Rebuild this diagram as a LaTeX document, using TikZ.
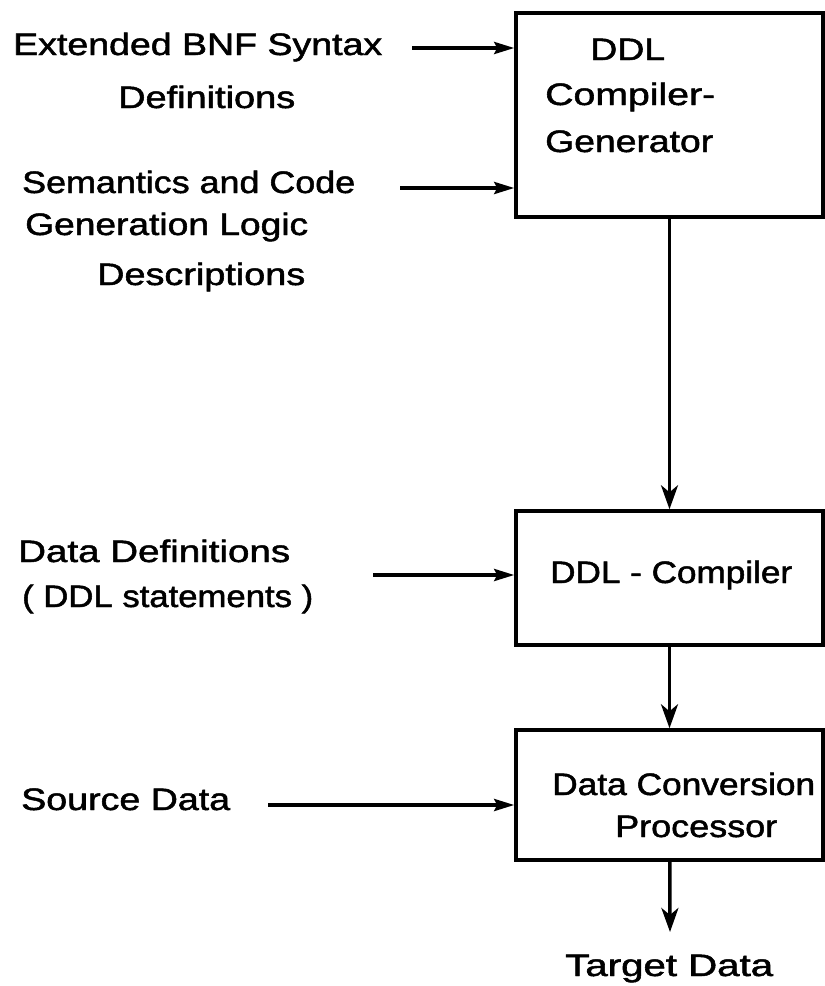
\documentclass[tikz,border=0pt]{standalone}
\usepackage{fontspec}
\setmainfont{Liberation Sans}[FakeBold=1.5]
\usetikzlibrary{arrows.meta}
\newcommand\fw[2]{\resizebox{#1pt}{\height}{#2}}
\tikzset{
  blk/.style={draw=black, line width=3.5pt, minimum width=307pt, inner sep=0pt},
  lbl/.style={anchor=base west, inner sep=0pt, font=\fontsize{31}{31}\selectfont},
  harr/.style={line width=3.5pt, -{Stealth[length=20pt,width=12pt,inset=3pt]}},
  varr/.style={line width=3.5pt, -{Stealth[length=24pt,width=17pt,inset=7pt]}},
}
\begin{document}
\begin{tikzpicture}[x=1pt,y=-1pt]
\useasboundingbox (0,0) rectangle (825,986);
% boxes
\node[blk, minimum height=204pt] (b1) at (669.5,115) {};
\node[blk, minimum height=134pt] (b2) at (669.5,578) {};
\node[blk, minimum height=130pt] (b3) at (669.5,795) {};
% box texts
\node[lbl] (t11) at (590,60) {\fw{75}{DDL}};
\node[lbl] (t12) at (545,105) {\fw{170}{Compiler-}};
\node[lbl] (t13) at (545,152) {\fw{168}{Generator}};
\node[lbl] (t21) at (550,583) {\fw{242}{DDL - Compiler}};
\node[lbl] (t31) at (552,795) {\fw{263}{Data Conversion}};
\node[lbl] (t32) at (615,837) {\fw{162}{Processor}};
\node[lbl] (tgt) at (565,976) {\fw{208}{Target Data}};
% left texts
\node[lbl] (l1) at (13,55) {\fw{369}{Extended BNF Syntax}};
\node[lbl] (l2) at (118,108) {\fw{177}{Definitions}};
\node[lbl] (l3) at (22,193) {\fw{333}{Semantics and Code}};
\node[lbl] (l4) at (25,235) {\fw{283}{Generation Logic}};
\node[lbl] (l5) at (97,285) {\fw{208}{Descriptions}};
\node[lbl] (l6) at (18,562) {\fw{272}{Data Definitions}};
\node[lbl] (l7) at (22,607) {\fw{291}{( DDL statements )}};
\node[lbl] (l8) at (21,810) {\fw{209}{Source Data}};
% arrow starts
\coordinate (s1) at (412,48);
\coordinate (s2) at (400,188);
\coordinate (s3) at (373,575);
\coordinate (s4) at (268,805);
\coordinate (e5) at (670,932);
% connectors
\draw[harr] (s1) -- (s1 -| b1.west);
\draw[harr] (s2) -- (s2 -| b1.west);
\draw[harr] (s3) -- (s3 -| b2.west);
\draw[harr] (s4) -- (s4 -| b3.west);
\draw[varr] (b1) -- (b2);
\draw[varr] (b2) -- (b3);
\draw[varr] (b3) -- (e5);
\end{tikzpicture}
\end{document}
